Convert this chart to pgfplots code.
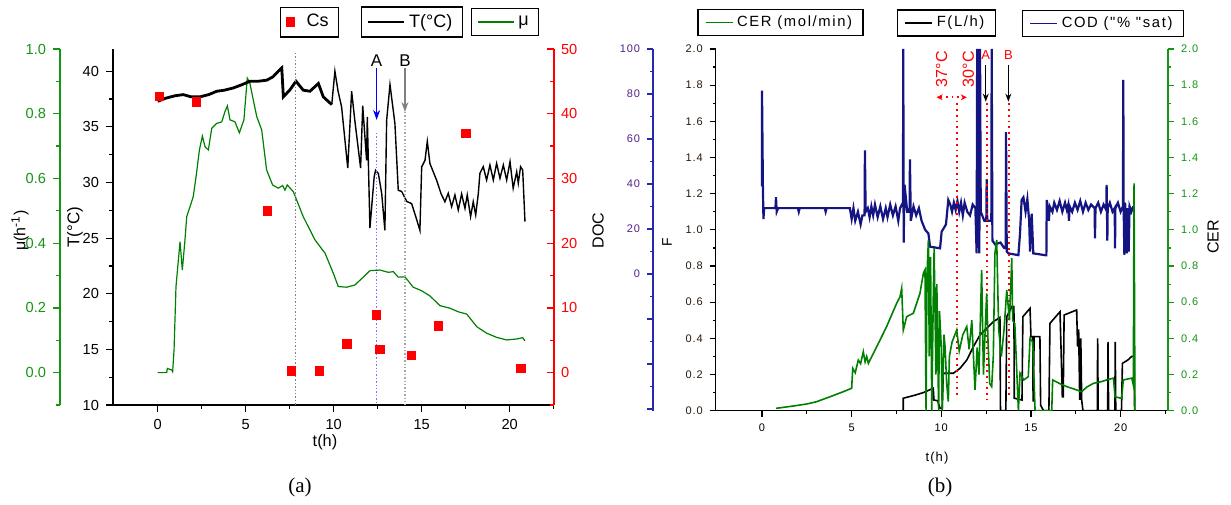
\documentclass[border=0pt]{standalone}
\usepackage{fontspec}
\setmainfont{Liberation Sans}
\newfontfamily\serifb{Liberation Serif}
\newfontfamily\spaced[LetterSpace=8]{Liberation Sans}
\newfontfamily\spacedl[LetterSpace=11]{Liberation Sans}
\usepackage{pgfplots}
\pgfplotsset{compat=1.18}
\usetikzlibrary{arrows.meta}
\definecolor{mygreen}{RGB}{0,128,0}
\definecolor{axgreen}{RGB}{20,150,20}
\definecolor{myred}{RGB}{255,0,0}
\definecolor{navy}{RGB}{20,20,130}
\definecolor{axblue}{RGB}{40,40,170}
\pgfplotsset{
  base/.style={scale only axis, /pgf/number format/assume math mode=true,
    axis line style={-}, tick align=outside, major tick length=3.5pt, minor tick length=2pt},
  lline/.style={legend image code/.code={\draw[##1] (0pt,0pt) -- (18pt,0pt);}},
  sline/.style={legend image code/.code={\draw[##1,line width=0.6pt] (0pt,0pt) -- (13.5pt,0pt);}},
  lleg/.style={legend style={draw=black, line width=0.7pt, fill=white, anchor=center,
      font=\fontsize{9}{10}\selectfont, inner xsep=3pt, inner ysep=1.5pt, at={#1}}},
  rleg/.style={legend style={draw=black, line width=0.8pt, fill=white, anchor=center,
      font=\spacedl\fontsize{7.4}{8}\selectfont, inner xsep=3.5pt, inner ysep=1pt, at={#1}}},
  lfont/.style={tick label style={font=\fontsize{7.3}{8}\selectfont}},
  rfont/.style={tick label style={font=\spaced\fontsize{5.5}{6}\selectfont}},
}
\begin{document}
\begin{tikzpicture}
\fill[white] (0,0) rectangle (615.5pt,252pt);
\path[use as bounding box] (0,0) rectangle (615.5pt,252pt);

% ===== Panel (a): mu axis (green, offset) =====
\begin{axis}[base, at={(30pt,49.5pt)}, anchor=south west, width=247pt, height=178pt,
  xmin=-5.551, xmax=22.52, ymin=-0.1, ymax=1.0,
  hide x axis, axis y line*=left,
  y axis line style={axgreen, line width=0.8pt},
  ytick={0,0.2,...,1.0}, minor ytick={-0.1,0.1,0.3,0.5,0.7,0.9},
  ytick style={axgreen, line width=0.6pt},
  yticklabel style={axgreen, /pgf/number format/.cd, fixed, fixed zerofill, precision=1},
  lfont,
  ylabel={μ(h\textsuperscript{-1})},
  ylabel style={at={(axis description cs:-0.081,0.49)}, anchor=center, font=\fontsize{8}{9}\selectfont},
  lline, lleg={(axis description cs:0.9008,1.0758)}]
\addplot[mygreen, line width=0.6pt] coordinates {
(0,0.0) (0.51,0.0) (0.55,0.013) (0.8,0.008) (0.85,0.003) (0.93,0.07) (1.04,0.266)
(1.27,0.405) (1.4,0.317) (1.55,0.41) (1.65,0.482) (1.84,0.513) (2.02,0.544) (2.18,0.605)
(2.37,0.688) (2.54,0.731) (2.69,0.698) (2.88,0.688) (3.07,0.755) (3.35,0.770) (3.64,0.775)
(3.82,0.806) (3.96,0.824) (4.11,0.781) (4.39,0.775) (4.64,0.741) (4.9,0.781) (5.09,0.91)
(5.24,0.894) (5.43,0.843) (5.63,0.791) (5.91,0.75) (6.19,0.626) (6.53,0.58) (6.85,0.57)
(7.10,0.578) (7.23,0.564) (7.36,0.58) (7.71,0.559) (8.27,0.482) (8.94,0.41) (9.51,0.369)
(9.98,0.307) (10.26,0.266) (10.74,0.264) (11.21,0.271) (11.68,0.295) (12.06,0.315)
(12.63,0.317) (13.1,0.31) (13.39,0.312) (13.67,0.295) (14.05,0.296) (14.52,0.264)
(15.0,0.253) (15.47,0.237) (16.04,0.207) (16.61,0.199) (17.08,0.188) (17.56,0.181)
(18.13,0.142) (18.69,0.122) (19.26,0.109) (19.83,0.101) (20.4,0.104) (20.74,0.108) (20.87,0.098)};
\addlegendentry{μ}
\end{axis}

% ===== Panel (a): main T axis =====
\begin{axis}[base, at={(56.5pt,49.5pt)}, anchor=south west, width=220.5pt, height=178pt,
  xmin=-2.54, xmax=22.52, ymin=10, ymax=42,
  axis x line*=bottom, axis y line*=left,
  axis line style={line width=1pt},
  xtick={0,5,...,20}, minor xtick={2.5,7.5,12.5,17.5,22.5},
  ytick={10,15,...,40}, minor ytick={12.5,17.5,22.5,27.5,32.5,37.5},
  tick style={black, line width=0.6pt},
  lfont,
  xlabel={t(h)}, xlabel style={at={(axis description cs:0.4807,-0.104)}, anchor=center, font=\fontsize{8.2}{9}\selectfont},
  ylabel={T(°C)}, ylabel style={at={(axis description cs:-0.0862,0.5)}, anchor=center, font=\fontsize{8.5}{9}\selectfont},
  lline, lleg={(axis description cs:0.678,1.0758)}]
\addplot[black, line width=1.4pt, forget plot] coordinates {
(0,37.3) (0.5,37.6) (1.0,37.8) (1.45,37.9) (1.9,37.7) (2.4,37.7) (2.9,37.9) (3.35,38.2)
(3.8,38.3) (4.3,38.5) (4.8,38.8) (5.24,39.1) (5.7,39.1) (6.2,39.2) (6.55,39.5) (6.85,40.0)
(7.05,40.3) (7.14,37.7) (7.5,38.3) (7.86,39.1) (8.27,38.3) (8.65,38.2) (9.13,38.9)
(9.41,37.7) (9.89,37.0)};
\addplot[black, line width=0.7pt] coordinates {
(9.89,37.0) (10.07,40.0) (10.25,38.2) (10.45,36.8) (10.8,31.3) (11.02,38.2) (11.2,35.6)
(11.53,31.3) (11.65,36.9) (11.87,32.0) (11.91,35.9) (12.06,25.9) (12.3,30.5) (12.38,31.1)
(12.54,30.8) (12.73,29.0) (12.91,25.7) (13.01,35.6) (13.2,38.8) (13.48,35.3) (13.67,29.3)
(13.86,29.2) (14.15,28.3) (14.43,28.1) (14.67,26.9) (14.9,25.7) (15.0,31.4) (15.19,32.0)
(15.32,33.7) (15.47,31.7) (15.85,30.2) (16.1,29.0) (16.32,28.27) (16.51,29.03) (16.70,27.83)
(16.89,28.88) (17.08,27.53) (17.27,28.97) (17.46,27.68) (17.59,28.88) (17.78,26.93)
(17.93,28.27) (18.07,27.08) (18.22,29.03) (18.31,30.83) (18.50,31.42) (18.69,30.22)
(18.88,31.57) (19.07,30.22) (19.26,31.72) (19.45,30.37) (19.64,31.57) (19.83,30.22)
(20.02,31.87) (20.20,29.48) (20.40,30.97) (20.49,29.93) (20.62,31.42) (20.74,31.12) (20.87,26.48)};
\addlegendentry{T(°C)}
\draw[gray, densely dotted, line width=0.7pt] (axis cs:7.84,41.64) -- (axis cs:7.84,10);
\draw[blue!55, densely dotted, line width=0.7pt] (axis cs:12.44,34.45) -- (axis cs:12.44,10);
\draw[gray!70, densely dotted, line width=0.7pt] (axis cs:14.05,36.34) -- (axis cs:14.05,10);
\draw[blue, line width=0.6pt, -{Stealth[length=5pt,width=3.5pt]}] (axis cs:12.44,40.27) -- (axis cs:12.44,35.62);
\draw[gray, line width=0.6pt, -{Stealth[length=5pt,width=3.5pt]}] (axis cs:14.05,40.27) -- (axis cs:14.05,36.34);
\node[font=\fontsize{8.5}{9}\selectfont] at (axis cs:12.44,40.92) {A};
\node[font=\fontsize{8.5}{9}\selectfont] at (axis cs:14.05,40.92) {B};
\end{axis}

% ===== Panel (a): DOC axis (red, right) =====
\begin{axis}[base, at={(56.5pt,49.5pt)}, anchor=south west, width=220.5pt, height=178pt,
  xmin=-2.54, xmax=22.52, ymin=-5, ymax=50,
  hide x axis, axis y line*=right, tick align=inside,
  y axis line style={myred, line width=0.8pt},
  ytick={0,10,...,50}, minor ytick={-5,5,15,25,35,45},
  ytick style={myred, line width=0.6pt},
  yticklabel style={myred},
  lfont,
  ylabel={DOC}, ylabel style={at={(axis description cs:1.0998,0.49)}, anchor=center, font=\fontsize{8}{9}\selectfont},
  lleg={(axis description cs:0.4456,1.0758)}]
\addplot[only marks, mark=square*, mark size=2.1pt, mark options={myred, fill=myred}] coordinates {
(0.1,42.7) (2.2,41.85) (6.23,25.0) (7.61,0.25) (9.18,0.25) (10.74,4.42) (12.44,8.9)
(12.63,3.6) (14.43,2.67) (15.94,7.25) (17.52,36.97) (20.64,0.66)};
\addlegendentry{\hspace{4pt}Cs}
\end{axis}

% ===== Panel (b): COD axis (blue, offset) =====
\begin{axis}[base, at={(326.5pt,46.65pt)}, anchor=south west, width=257.5pt, height=180.85pt,
  xmin=-6.079, xmax=22.644, ymin=-60.76, ymax=100,
  hide x axis, axis y line*=left, major tick length=3pt, minor tick length=1.5pt,
  y axis line style={axblue, line width=0.8pt},
  ytick={-60,-40,...,100}, yticklabels={,,,0,20,40,60,80,100},
  minor ytick={-50,-30,...,90},
  ytick style={axblue, line width=0.6pt},
  yticklabel style={axblue!80!red},
  rfont,
  sline, rleg={(axis description cs:0.8738,1.0705)}]
\addplot[navy, line width=1.1pt] coordinates {
(0.0,38.91) (0.0,81.51) (0.05,38.91) (0.08,24.44) (0.12,29.27) (0.75,29.27) (0.78,34.09)
(0.82,27.66) (0.9,29.27) (2.0,29.27) (2.05,27.66) (2.1,29.27) (3.5,29.27) (3.55,27.66)
(3.6,29.27) (4.9,29.27) (5.0,24.44) (5.1,29.27) (5.2,23.64) (5.35,27.66) (5.5,22.03)
(5.6,26.05) (5.72,26.05) (5.74,54.99) (5.78,27.66) (5.9,29.27) (6.0,25.25) (6.1,30.07)
(6.2,26.05) (6.3,30.87) (6.45,25.25) (6.6,30.07) (6.75,24.44) (6.9,29.27) (7.0,25.25)
(7.15,30.87) (7.3,26.05) (7.45,30.07) (7.6,23.64) (7.7,29.27) (7.86,31.68) (7.88,100)
(7.9,13.99) (7.95,39.72) (8.1,27.66) (8.23,27.66) (8.25,50.97) (8.3,23.64) (8.45,30.07)
(8.6,26.05) (8.75,29.27) (8.9,23.64) (9.1,19.62) (9.28,18.01) (9.37,12.14)
(9.93,11.42) (10.02,18.82) (10.26,22.03) (10.39,32.88) (10.5,30.87) (10.6,27.66)
(10.7,31.68) (10.8,28.46) (10.9,32.49) (11.0,27.66) (11.1,31.68) (11.2,26.05) (11.3,31.68)
(11.45,27.66) (11.6,26.05) (11.75,30.87) (11.9,29.27) (11.97,9.17) (12.0,100) (12.04,11.58)
(12.08,100) (12.12,9.17) (12.16,100) (12.2,27.66) (12.4,23.64) (12.51,23.64) (12.53,42.13)
(12.56,23.64) (12.79,23.64) (12.81,100) (12.85,14.80) (13.0,13.19) (13.3,13.99) (13.5,11.58)
(13.59,11.58) (13.61,63.03) (13.65,9.97) (13.74,9.17)
(14.3,8.37) (14.39,18.01) (14.48,32.88) (14.58,34.09) (14.7,27.66) (14.8,33.28) (14.9,23.64)
(14.95,9.97) (15.04,26.85) (15.13,9.17) (15.78,8.37) (15.86,8.37) (15.88,32.88) (16.0,23.64)
(16.05,30.07) (16.2,27.66) (16.3,31.68) (16.45,28.46) (16.6,32.49) (16.75,27.66) (16.9,31.68)
(17.0,28.46) (17.08,30.87) (17.12,23.64) (17.16,30.07) (17.3,27.66) (17.45,31.68) (17.6,28.46)
(17.75,32.49) (17.9,27.66) (18.05,31.68) (18.2,28.46) (18.35,30.87) (18.55,29.27) (18.57,15.84)
(18.6,29.27) (18.75,31.68) (18.9,27.66) (19.05,30.87) (19.2,28.46) (19.22,39.55) (19.24,28.46)
(19.26,14.80) (19.28,29.27) (19.4,31.68) (19.55,27.66) (19.67,29.27) (19.69,11.42) (19.71,29.27)
(19.85,31.68) (20.0,27.66) (20.13,30.07) (20.15,86.26) (20.17,29.27) (20.21,8.45) (20.25,31.68)
(20.35,9.17) (20.4,29.27) (20.45,10.0) (20.5,30.07) (20.6,27.66) (20.71,30.07)};
\addlegendentry{COD ("\% "sat)}
\end{axis}

% ===== Panel (b): F axis =====
\begin{axis}[base, at={(357.85pt,46.65pt)}, anchor=south west, width=226.15pt, height=180.85pt,
  xmin=-2.582, xmax=22.644, ymin=0, ymax=2,
  axis x line*=bottom, axis y line*=left, major tick length=3pt, minor tick length=1.5pt,
  axis line style={line width=0.7pt},
  xtick={0,5,...,20}, minor xtick={2.5,7.5,12.5,17.5,22.5},
  ytick={0,0.2,...,2.0}, minor ytick={0.1,0.3,...,1.9},
  tick style={black, line width=0.6pt},
  yticklabel style={black!80!brown, /pgf/number format/.cd, fixed, fixed zerofill, precision=1},
  rfont,
  xlabel={t(h)}, xlabel style={at={(axis description cs:0.4893,-0.1308)}, anchor=center, font=\spaced\fontsize{6.5}{7}\selectfont},
  ylabel={F}, ylabel style={at={(axis description cs:-0.1077,0.4664)}, anchor=center, font=\fontsize{7}{8}\selectfont},
  sline, rleg={(axis description cs:0.5103,1.0719)}]
\addplot[black, line width=0.8pt] coordinates {
(7.88,0.0) (7.88,0.069) (8.5,0.085) (9.0,0.10) (9.55,0.124) (9.59,0.059) (9.8,0.055)
(9.93,0.013) (10.05,0.013) (10.11,0.207) (10.67,0.207) (11.04,0.234) (11.42,0.28)
(11.79,0.354) (12.16,0.419) (12.53,0.456) (12.9,0.492) (13.27,0.516) (13.3,0.0) (13.6,0.0)
(13.65,0.52) (13.93,0.575) (14.05,0.575) (14.07,0.069) (14.5,0.059) (14.55,0.52) (14.95,0.566)
(15.0,0.409) (15.1,0.409) (15.12,0.05) (15.18,0.41) (15.5,0.409) (15.54,0.03) (15.7,0.0)
(16.0,0.0) (16.06,0.483) (16.62,0.547) (16.68,0.336) (16.75,0.077) (16.8,0.077) (16.85,0.529)
(17.55,0.557) (17.6,0.354) (17.66,0.45) (17.72,0.06) (17.78,0.4) (17.83,0.059) (17.9,0.0)
(18.7,0.0) (18.72,0.40) (18.75,0.0) (19.28,0.0) (19.3,0.38) (19.33,0.0) (19.68,0.0)
(19.7,0.38) (19.73,0.0) (20.05,0.0) (20.1,0.262) (20.4,0.28) (20.62,0.30) (20.75,0.30) (20.78,0.0)};
\addlegendentry{F(L/h)}
\draw[myred, dotted, line width=0.9pt] (axis cs:10.89,1.70) -- (axis cs:10.89,0.07);
\draw[myred, dotted, line width=0.9pt] (axis cs:12.53,1.70) -- (axis cs:12.53,0.06);
\draw[myred, dotted, line width=0.9pt] (axis cs:13.78,1.70) -- (axis cs:13.78,0.07);
\draw[myred, dotted, line width=0.8pt, {Stealth[length=3pt,width=3pt]}-{Stealth[length=3pt,width=3pt]}] (axis cs:9.74,1.733) -- (axis cs:11.42,1.733);
\draw[black, line width=0.6pt, -{Stealth[length=4pt,width=3pt]}] (axis cs:12.48,1.911) -- (axis cs:12.48,1.709);
\draw[black, line width=0.6pt, -{Stealth[length=4pt,width=3pt]}] (axis cs:13.74,1.911) -- (axis cs:13.74,1.709);
\node[myred, font=\fontsize{6.5}{7}\selectfont] at (axis cs:12.48,1.967) {A};
\node[myred, font=\fontsize{6.5}{7}\selectfont] at (axis cs:13.74,1.967) {B};
\node[myred, rotate=90, font=\fontsize{8}{9}\selectfont] at (axis cs:10.02,1.888) {37°C};
\node[myred, rotate=90, font=\fontsize{8}{9}\selectfont] at (axis cs:11.51,1.888) {30°C};
\end{axis}

% ===== Panel (b): CER axis (green, right) =====
\begin{axis}[base, at={(357.85pt,46.65pt)}, anchor=south west, width=226.15pt, height=180.85pt,
  xmin=-2.582, xmax=22.644, ymin=0, ymax=2,
  hide x axis, axis y line*=right, major tick length=3pt, minor tick length=1.5pt,
  y axis line style={axgreen, line width=0.7pt},
  ytick={0,0.2,...,2.0}, minor ytick={0.1,0.3,...,1.9},
  ytick style={axgreen, line width=0.6pt},
  yticklabel style={axgreen, /pgf/number format/.cd, fixed, fixed zerofill, precision=1},
  rfont,
  ylabel={CER}, ylabel style={at={(axis description cs:1.0995,0.48)}, anchor=center, font=\fontsize{8}{9}\selectfont},
  sline, rleg={(axis description cs:0.1433,1.0733)}]
\addplot[mygreen, line width=0.8pt] coordinates {
(0.78,0.013) (1.75,0.026) (2.49,0.037) (3.05,0.05) (3.79,0.077) (4.53,0.105) (5.0,0.124)
(5.06,0.234) (5.2,0.21) (5.37,0.28) (5.5,0.26) (5.65,0.326) (5.75,0.27) (5.84,0.30)
(5.93,0.262) (6.4,0.354) (6.95,0.465) (7.51,0.594) (7.7,0.63) (7.79,0.677) (7.88,0.446)
(8.07,0.52) (8.44,0.539) (8.81,0.649) (9.0,0.76) (9.09,0.778) (9.15,0.0) (9.2,0.75)
(9.28,0.944) (9.33,0.3) (9.4,0.85) (9.47,0.0) (9.55,0.612) (9.6,0.9) (9.7,0.2) (9.75,0.7)
(9.85,0.0) (9.9,0.55) (10.0,0.35) (10.05,0.0) (10.15,0.42) (10.21,0.354) (10.3,0.15)
(10.39,0.05) (10.45,0.3) (10.6,0.38) (10.86,0.446) (11.0,0.33) (11.2,0.42) (11.42,0.465)
(11.55,0.34) (11.7,0.5) (11.88,0.115) (12.0,0.35) (12.1,0.2) (12.25,0.778) (12.35,0.2)
(12.53,0.649) (12.6,0.4) (12.7,0.15) (12.81,0.133) (12.9,0.3) (12.99,0.87) (13.09,0.944)
(13.2,0.45) (13.35,0.3) (13.5,0.45) (13.65,0.667) (13.8,0.5) (13.93,0.843) (13.98,0.50)
(14.1,0.48) (14.3,0.0) (14.39,0.207) (14.6,0.17) (14.85,0.188) (14.95,0.40) (15.1,0.38)
(15.23,0.0) (16.16,0.0) (16.21,0.17) (16.6,0.15) (17.0,0.133) (17.4,0.12) (17.83,0.105)
(18.1,0.13) (18.48,0.151) (18.9,0.16) (19.22,0.17) (19.6,0.18) (19.69,0.077) (20.06,0.068)
(20.15,0.17) (20.62,0.18) (20.71,0.142) (20.75,1.257) (20.8,0.0)};
\addlegendentry{CER (mol/min)}
\end{axis}

\node[font=\serifb\fontsize{10.5}{12}\selectfont] at (150pt,8.5pt) {(a)};
\node[font=\serifb\fontsize{10.5}{12}\selectfont] at (470pt,8.5pt) {(b)};
\end{tikzpicture}
\end{document}
